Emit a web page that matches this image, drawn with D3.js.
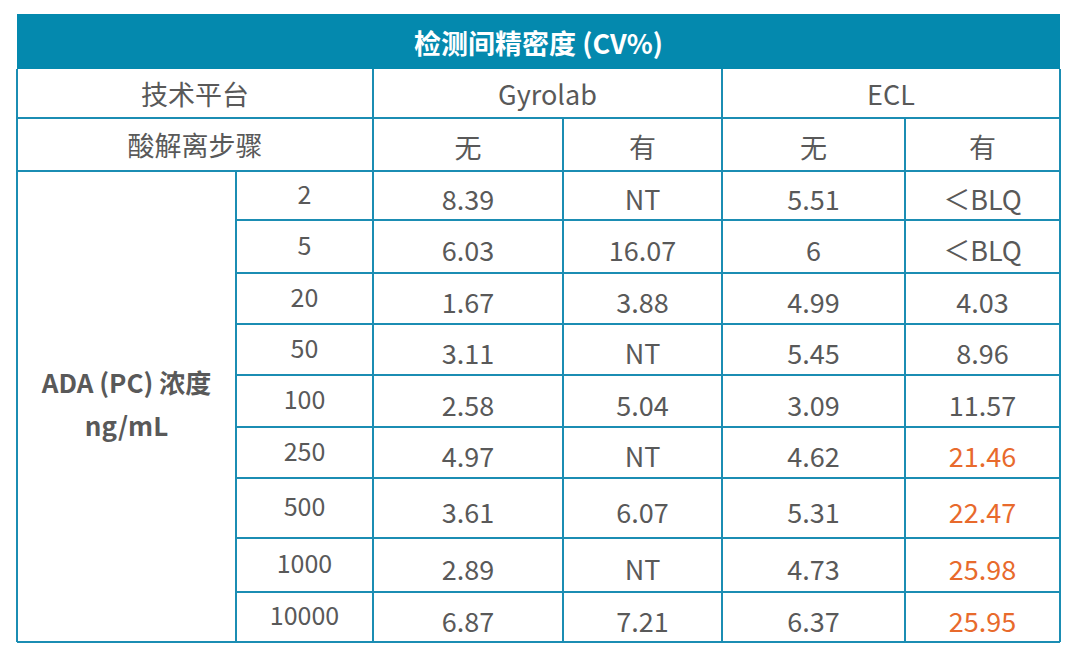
<!DOCTYPE html>
<html>
<head>
<meta charset="utf-8">
<script src="https://cdn.jsdelivr.net/npm/d3@7"></script>
<style>
body { margin: 0; background: #fff; }
text { font-family: "Noto Sans CJK SC", "Noto Sans", sans-serif; }
</style>
</head>
<body>
<svg id="chart" width="1080" height="662"></svg>
<script>
// data
var title = "检测间精密度 (CV%)";
var platforms = ["Gyrolab", "ECL"];
var steps = ["无", "有", "无", "有"];
var concentrations = ["2", "5", "20", "50", "100", "250", "500", "1000", "10000"];
var gyroNo  = ["8.39", "6.03", "1.67", "3.11", "2.58", "4.97", "3.61", "2.89", "6.87"];
var gyroYes = ["NT", "16.07", "3.88", "NT", "5.04", "NT", "6.07", "NT", "7.21"];
var eclNo   = ["5.51", "6", "4.99", "5.45", "3.09", "4.62", "5.31", "4.73", "6.37"];
var eclYes  = ["＜BLQ", "＜BLQ", "4.03", "8.96", "11.57", "21.46", "22.47", "25.98", "25.95"];
var flagged = [false, false, false, false, false, true, true, true, true];

var colX = [17, 236, 373, 563, 722, 905, 1060];
var rowY = [14, 69, 118, 171, 220, 273, 324, 375, 427, 478, 538, 592, 642];

var lineColor = "#1b8db3", textColor = "#595959", orange = "#e86a2c";
var svg = d3.select("#chart");

// title bar
svg.append("rect").attr("x", colX[0]).attr("y", rowY[0])
	.attr("width", colX[6] - colX[0]).attr("height", rowY[1] - rowY[0])
	.attr("fill", "#0489ae");
svg.append("text").attr("x", (colX[0] + colX[6]) / 2).attr("y", (rowY[0] + rowY[1]) / 2 + 1)
	.attr("text-anchor", "middle").attr("dominant-baseline", "central")
	.attr("fill", "#fff").attr("font-size", 27).attr("font-weight", "bold").text(title);

function line(x1, y1, x2, y2) {
	svg.append("line").attr("x1", x1).attr("y1", y1).attr("x2", x2).attr("y2", y2)
		.attr("stroke", lineColor).attr("stroke-width", 2);
}
function label(x, y, t, opts) {
	opts = opts || {};
	svg.append("text").attr("x", x).attr("y", y)
		.attr("text-anchor", "middle").attr("dominant-baseline", "central")
		.attr("fill", opts.color || textColor).attr("font-size", opts.size || 27)
		.attr("font-weight", opts.bold ? "bold" : "normal").text(t);
}

// grid
line(colX[0], rowY[1], colX[0], rowY[12]);
line(colX[6], rowY[1], colX[6], rowY[12]);
for (var i = 2; i < rowY.length; i++) {
	var x0 = (i >= 4 && i < 12) ? colX[1] : colX[0];
	line(x0, rowY[i], colX[6], rowY[i]);
}
line(colX[2], rowY[1], colX[2], rowY[12]);
line(colX[4], rowY[1], colX[4], rowY[12]);
line(colX[3], rowY[2], colX[3], rowY[12]);
line(colX[5], rowY[2], colX[5], rowY[12]);
line(colX[1], rowY[3], colX[1], rowY[12]);

// headers
label((colX[0] + colX[2]) / 2, (rowY[1] + rowY[2]) / 2, "技术平台");
label((colX[0] + colX[2]) / 2, (rowY[2] + rowY[3]) / 2, "酸解离步骤");
platforms.forEach(function(p, i) {
	label((colX[2 + i * 2] + colX[4 + i * 2]) / 2, (rowY[1] + rowY[2]) / 2, p);
});
steps.forEach(function(s, i) {
	label((colX[2 + i] + colX[3 + i]) / 2, (rowY[2] + rowY[3]) / 2 + 2, s);
});

// row group label
var midY = (rowY[3] + rowY[12]) / 2;
label((colX[0] + colX[1]) / 2, midY - 25, "ADA (PC) 浓度", {bold: true, size: 26});
label((colX[0] + colX[1]) / 2, midY + 18, "ng/mL", {bold: true, size: 26});

// body
var cols = [gyroNo, gyroYes, eclNo, eclYes];
concentrations.forEach(function(c, r) {
	var y0 = rowY[3 + r], y1 = rowY[4 + r], cy = (y0 + y1) / 2;
	label((colX[1] + colX[2]) / 2, cy - 3, c, {size: 25});
	cols.forEach(function(col, j) {
		var orangeCell = j === 3 && flagged[r];
		label((colX[2 + j] + colX[3 + j]) / 2, cy + 3, col[r], {color: orangeCell ? orange : textColor});
	});
});
</script>
</body>
</html>
